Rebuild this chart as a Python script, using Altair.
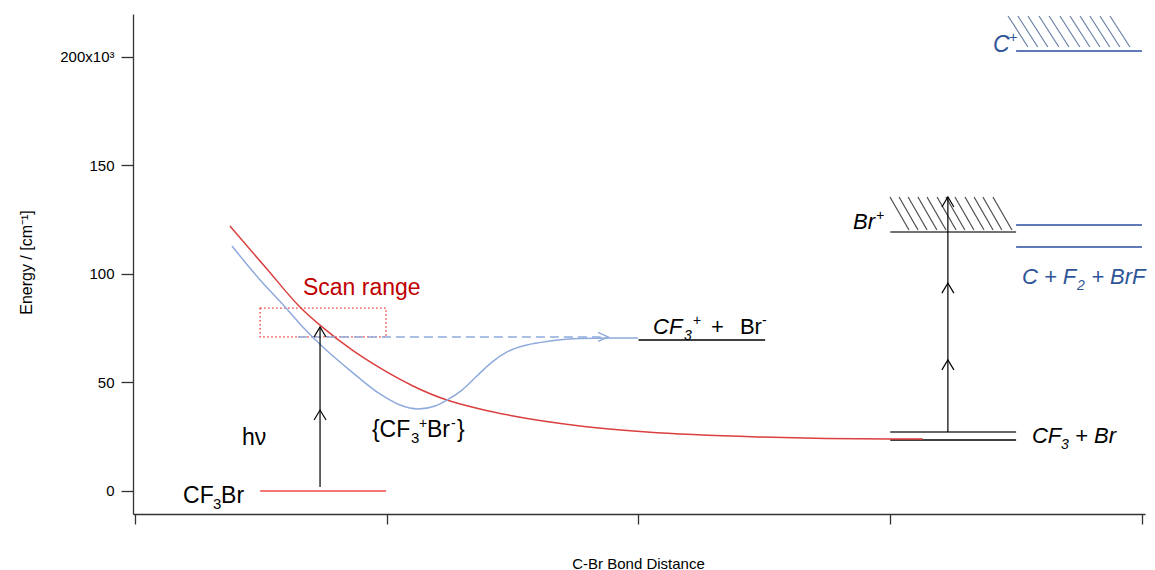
import altair as alt
import pandas as pd

# ---- potential-energy curves (bond distance in arbitrary units, energy in cm^-1)
# covalent CF3Br curve correlating to CF3 + Br (red)
covalent_r = [0.377, 0.524, 0.655, 0.743, 0.862, 0.973, 1.104, 1.239, 1.370, 1.502, 1.768, 2.034, 2.483, 2.999, 3.130]
covalent_e = [122100, 102300, 84800, 75600, 65000, 56700, 48400, 41900, 37800, 34600, 30000, 27200, 24900, 24000, 24000]

# ion-pair curve {CF3+Br-} correlating to CF3+ + Br- (blue)
ionpair_r = [0.385, 0.497, 0.596, 0.655, 0.755, 0.862, 0.973, 1.053, 1.124, 1.192, 1.239,
             1.299, 1.358, 1.418, 1.478, 1.557, 1.648, 1.768, 1.899, 1.998]
ionpair_e = [112900, 97200, 84800, 77000, 65400, 54800, 44700, 39600, 37800, 39200, 41900,
             46500, 53000, 59400, 64100, 67300, 69100, 70300, 70500, 70500]

# ---- energy levels: start, end, energy, colour
level_r1 = [0.497, 2.0, 3.0, 3.0, 3.0, 3.5, 3.5, 3.5]
level_r2 = [0.997, 2.503, 3.5, 3.5, 3.5, 4.0, 4.0, 4.0]
level_e = [0, 69600, 27200, 23500, 119300, 122600, 112400, 202800]
level_col = ["#F04848", "#000000", "#333333", "#000000", "#444444", "#2B4EA2", "#2B4EA2", "#2B4EA2"]

# ---- scan window (dotted box) and dashed dissociation arrow
scan_r = [0.497, 0.997]
scan_e = [71000, 84300]
dash_r = [0.647, 1.879]
dash_e = 71000

# ---- vertical excitation arrows: position, start, end, chevron energies
arrow_r = [0.735, 3.229]
arrow_e1 = [1800, 27200]
arrow_e2 = [75600, 135500]
chevron_r = [0.735, 0.735, 3.229, 3.229, 3.229]
chevron_e = [37300, 75600, 60400, 95800, 135500]

# ---- hatching above the ionisation continua
brp_hatch_r = [2.999, 3.035, 3.071, 3.110, 3.146, 3.186, 3.221, 3.257, 3.297, 3.333, 3.368, 3.408]
brp_hatch_top, brp_hatch_bot, brp_slant = 135500, 120300, 0.0755
cp_hatch_r = [3.468, 3.507, 3.547, 3.591, 3.631, 3.674, 3.714, 3.754, 3.793, 3.833, 3.873]
cp_hatch_top, cp_hatch_bot, cp_slant = 218900, 204600, 0.079

# ---- annotation text pieces (sub/superscripts drawn as separate pieces)
RED, BLK, BLU = "#C00000", "#000000", "#2E5597"
label_text = ["Scan range",
              "CF", "3", "Br",
              "hν",
              "{CF", "3", "+", "Br", "-", "}",
              "CF", "3", "+", "+", "Br", "-",
              "Br", "+",
              "C + F", "2", "+ BrF",
              "CF", "3", "+ Br",
              "C", "+"]
label_r = [0.667,
           0.191, 0.310, 0.342,
           0.425,
           0.941, 1.096, 1.128, 1.160, 1.255, 1.279,
           2.058, 2.181, 2.216, 2.288, 2.403, 2.491,
           2.852, 2.943,
           3.523, 3.742, 3.798,
           3.563, 3.678, 3.734,
           3.408, 3.472]
label_e = [90300,
           -5530, -8290, -5530,
           21200,
           24900, 22100, 29000, 24900, 29000, 24900,
           72300, 69600, 76500, 72300, 72300, 76500,
           120700, 124900,
           95400, 92600, 95400,
           22100, 19400, 22100,
           202300, 206900]
label_size = [23,
              23, 15, 23,
              23,
              23, 15, 14, 23, 14, 23,
              22, 14, 14, 22, 22, 14,
              22, 14,
              22, 14, 22,
              22, 14, 22,
              23, 14]
label_color = [RED,
               BLK, BLK, BLK,
               BLK,
               BLK, BLK, BLK, BLK, BLK, BLK,
               BLK, BLK, BLK, BLK, BLK, BLK,
               BLK, BLK,
               BLU, BLU, BLU,
               BLK, BLK, BLK,
               BLU, BLU]
label_italic = [False,
                False, False, False,
                False,
                False, False, False, False, False, False,
                True, True, True, False, False, False,
                True, True,
                True, True, True,
                True, True, True,
                True, True]

FONT = "Liberation Sans"
AXIS_FONT = "'Liberation Sans Narrow', 'Liberation Sans', Arial"

xs = alt.Scale(domain=[-0.008, 4.012], nice=False, zero=False)
ys = alt.Scale(domain=[-10600, 219800], nice=False, zero=False)

x_axis = alt.Axis(values=[0, 1, 2, 3, 4], labels=False, grid=False,
                  tickSize=10, tickColor="#333333", tickWidth=1.3,
                  domainColor="#333333", domainWidth=1.3,
                  title="C-Br Bond Distance", titleFont=AXIS_FONT,
                  titleFontSize=15, titleFontWeight="normal", titleColor="#000000",
                  titleX=505, titleY=49, titleAlign="center", titleBaseline="middle")
y_axis = alt.Axis(values=[0, 50000, 100000, 150000, 200000], grid=False,
                  labelExpr="datum.value == 200000 ? '200x10³' : format(datum.value / 1000, 'd')",
                  labelFont=AXIS_FONT, labelFontSize=15, labelColor="#000000", labelPadding=7,
                  tickSize=12, tickColor="#333333", tickWidth=1.3,
                  domainColor="#333333", domainWidth=1.3,
                  title="Energy  / [cm⁻¹]", titleFont=AXIS_FONT, titleFontSize=16,
                  titleFontWeight="normal", titleColor="#000000",
                  titleAngle=-90, titleX=-107, titleY=248,
                  titleAlign="center", titleBaseline="middle")


def X(field):
    return alt.X(field, type="quantitative", scale=xs, axis=x_axis)


def Y(field):
    return alt.Y(field, type="quantitative", scale=ys, axis=y_axis)


covalent = pd.DataFrame({"r": covalent_r, "e": covalent_e})
ionpair = pd.DataFrame({"r": ionpair_r, "e": ionpair_e})
levels = pd.DataFrame({"r1": level_r1, "r2": level_r2, "e": level_e, "c": level_col})
scan = pd.DataFrame({"r1": [scan_r[0]], "r2": [scan_r[1]], "e1": [scan_e[0]], "e2": [scan_e[1]]})
dash = pd.DataFrame({"r1": [dash_r[0]], "r2": [dash_r[1]], "e": [dash_e]})
dash_head = pd.DataFrame({"r": [dash_r[1]], "e": [dash_e]})
arrows = pd.DataFrame({"r": arrow_r, "e1": arrow_e1, "e2": arrow_e2})
chevrons = pd.DataFrame({"r": chevron_r, "e": chevron_e})
hatch = pd.DataFrame({
    "r1": brp_hatch_r + cp_hatch_r,
    "r2": [v + brp_slant for v in brp_hatch_r] + [v + cp_slant for v in cp_hatch_r],
    "e1": [brp_hatch_top] * len(brp_hatch_r) + [cp_hatch_top] * len(cp_hatch_r),
    "e2": [brp_hatch_bot] * len(brp_hatch_r) + [cp_hatch_bot] * len(cp_hatch_r),
    "c": ["#4D4D4D"] * len(brp_hatch_r) + ["#6A82A6"] * len(cp_hatch_r),
})
labels = pd.DataFrame({"t": label_text, "r": label_r, "e": label_e,
                       "s": label_size, "c": label_color, "it": label_italic})

covalent_line = alt.Chart(covalent).mark_line(color="#D9403F", strokeWidth=1.5,
                                              interpolate="monotone").encode(x=X("r"), y=Y("e"))
ionpair_line = alt.Chart(ionpair).mark_line(color="#8FAADC", strokeWidth=1.5,
                                            interpolate="monotone").encode(x=X("r"), y=Y("e"))

level_rules = alt.Chart(levels).mark_rule(strokeWidth=1.5).encode(
    x=X("r1"), x2="r2", y=Y("e"), color=alt.Color("c:N", scale=None))

scan_box = alt.Chart(scan).mark_rect(fillOpacity=0, stroke="#F03030", strokeWidth=1.3,
                                     strokeDash=[1.5, 2.5]).encode(
    x=X("r1"), x2="r2", y=Y("e1"), y2="e2")

dash_rule = alt.Chart(dash).mark_rule(color="#8FAADC", strokeWidth=1.5,
                                      strokeDash=[9, 5]).encode(x=X("r1"), x2="r2", y=Y("e"))
dash_tip = alt.Chart(dash_head).mark_point(shape="M-1,-0.45L0,0L-1,0.45", size=400,
                                           filled=False, color="#8FAADC",
                                           strokeWidth=1.5, opacity=1).encode(x=X("r"), y=Y("e"))

arrow_rules = alt.Chart(arrows).mark_rule(color="#000000", strokeWidth=1.2).encode(
    x=X("r"), y=Y("e1"), y2="e2")
arrow_tips = alt.Chart(chevrons).mark_point(shape="M-0.6,1L0,0L0.6,1", size=400,
                                            filled=False, color="#000000",
                                            strokeWidth=1.2, opacity=1).encode(x=X("r"), y=Y("e"))

hatch_rules = alt.Chart(hatch).mark_rule(strokeWidth=1.2).encode(
    x=X("r1"), x2="r2", y=Y("e1"), y2="e2", color=alt.Color("c:N", scale=None))

text_common = dict(font=FONT, align="left", baseline="alphabetic")
upright_text = alt.Chart(labels[~labels["it"]]).mark_text(**text_common).encode(
    x=X("r"), y=Y("e"), text="t:N",
    size=alt.Size("s:Q", scale=None), color=alt.Color("c:N", scale=None))
italic_text = alt.Chart(labels[labels["it"]]).mark_text(fontStyle="italic", **text_common).encode(
    x=X("r"), y=Y("e"), text="t:N",
    size=alt.Size("s:Q", scale=None), color=alt.Color("c:N", scale=None))

chart = alt.layer(
    hatch_rules, level_rules, scan_box, covalent_line, ionpair_line,
    dash_rule, dash_tip, arrow_rules, arrow_tips, upright_text, italic_text,
).properties(
    width=1012, height=500,
    autosize=alt.AutoSizeParams(type="none"),
    padding={"left": 133, "top": 14, "right": 10, "bottom": 56},
    background="white",
).configure_view(stroke=None)

chart.save("out.html", embed_options={"renderer": "svg", "actions": False})
